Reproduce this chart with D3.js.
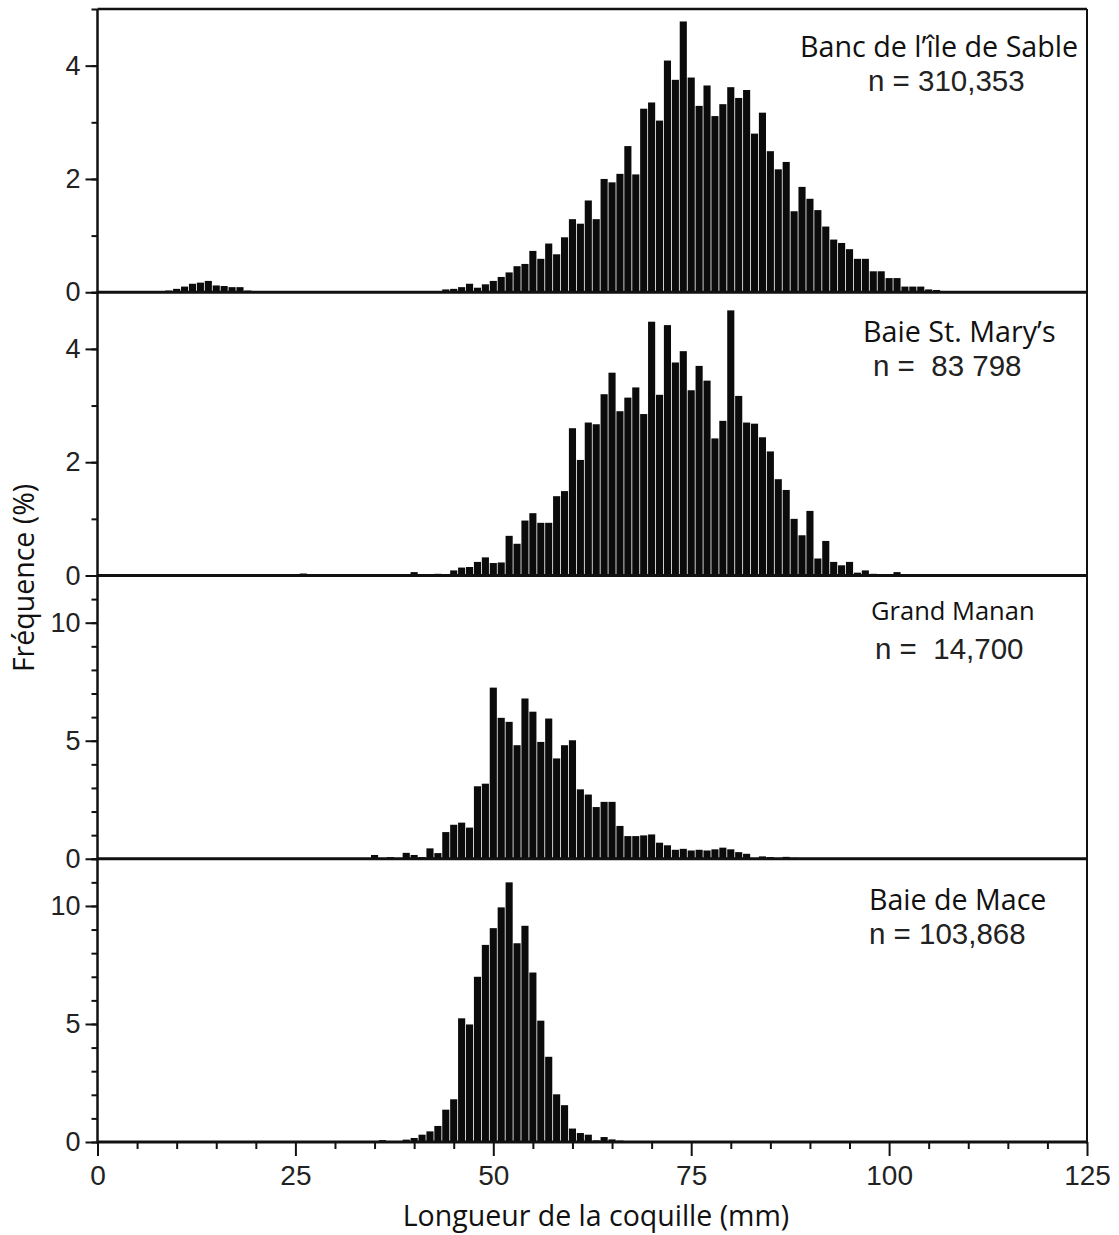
<!DOCTYPE html>
<html>
<head>
<meta charset="utf-8">
<script src="https://cdn.jsdelivr.net/npm/d3@7"></script>
<style>
  body { margin: 0; background: #fff; }
  .tick text { font-family: "Liberation Sans", Arial, sans-serif; font-size: 27px; fill: #222; }
  .xaxis .tick text { font-size: 28px; }
  .tick line { stroke: #111; stroke-width: 2px; }
  .title { font-family: "Open Sans", sans-serif; fill: #111; white-space: pre; }
  .nlab { font-family: "Liberation Sans", Arial, sans-serif; font-size: 29.5px; fill: #222; white-space: pre; }
  .axtitle { font-family: "Open Sans", sans-serif; font-size: 28.5px; fill: #111; }
</style>
</head>
<body>
<div id="chart"></div>
<script>
// ---- data (percent per 1 mm length class) ----
var sites = ["Banc de l\u2019île de Sable", "Baie St. Mary\u2019s", "Grand Manan", "Baie de Mace"];
var nLabels = ["n = 310,353", "n =  83 798", "n =  14,700", "n = 103,868"];
var yMax = [5, 5, 12, 12];
var xTickLabels = [0, 25, 50, 75, 100, 125];

// first length class (mm) of each series
var sableStart = 9;
var sableFreq = [0.03, 0.06, 0.1, 0.15, 0.17, 0.2, 0.12, 0.11, 0.09, 0.09, 0.03, 0.02,
  0, 0, 0, 0, 0, 0, 0, 0, 0, 0, 0, 0, 0, 0, 0, 0, 0, 0, 0,
  0.01, 0.01, 0.01, 0.02, 0.05, 0.06, 0.09, 0.15, 0.08, 0.14,
  0.2, 0.27, 0.35, 0.46, 0.5, 0.73, 0.59, 0.86, 0.67, 0.97,
  1.29, 1.21, 1.62, 1.29, 2.0, 1.94, 2.09, 2.58, 2.08, 3.24,
  3.35, 3.03, 4.09, 3.75, 4.78, 3.79, 3.29, 3.65, 3.11, 3.32,
  3.62, 3.43, 3.57, 2.8, 3.17, 2.49, 2.17, 2.3, 1.43, 1.86,
  1.65, 1.45, 1.16, 0.93, 0.87, 0.76, 0.59, 0.59, 0.37, 0.37,
  0.25, 0.25, 0.1, 0.1, 0.1, 0.05, 0.04, 0.02];

var maryStart = 26;
var maryFreq = [0.035, 0, 0, 0, 0, 0, 0, 0, 0.01, 0, 0, 0, 0,
  0.01, 0.06, 0.02, 0.02, 0.03, 0.01, 0.09, 0.14, 0.15, 0.24, 0.32,
  0.22, 0.23, 0.7, 0.56, 0.97, 1.1, 0.93, 0.93, 1.4, 1.49,
  2.6, 2.04, 2.7, 2.67, 3.2, 3.58, 2.9, 3.14, 3.32, 2.85,
  4.48, 3.19, 4.42, 3.76, 3.96, 3.27, 3.7, 3.44, 2.42, 2.73,
  4.68, 3.17, 2.7, 2.68, 2.44, 2.19, 1.7, 1.51, 1.0, 0.71,
  1.14, 0.3, 0.61, 0.24, 0.18, 0.24, 0.05, 0.09, 0.03, 0.02,
  0.02, 0.06];

var mananStart = 35;
var mananFreq = [0.16, 0.03, 0.07, 0.03, 0.25, 0.16, 0.07, 0.44, 0.24, 1.13,
  1.44, 1.53, 1.32, 3.07, 3.18, 7.25, 5.97, 5.8, 4.81, 6.79,
  6.23, 4.95, 5.94, 4.25, 4.81, 5.02, 2.94, 2.72, 2.19, 2.41,
  2.41, 1.39, 0.96, 0.96, 0.99, 1.03, 0.68, 0.57, 0.38, 0.42,
  0.35, 0.38, 0.35, 0.4, 0.47, 0.4, 0.28, 0.21, 0.03, 0.1,
  0.07, 0.03, 0.08, 0.04];

var maceStart = 36;
var maceFreq = [0.08, 0.01, 0.01, 0.1, 0.17, 0.31, 0.45, 0.68, 1.37, 1.81,
  5.24, 4.98, 7.0, 8.35, 9.06, 9.94, 11.0, 8.42, 9.16, 7.18,
  5.14, 3.61, 2.02, 1.56, 0.57, 0.38, 0.31, 0.07, 0.21, 0.11,
  0.06, 0.03];

var starts = [sableStart, maryStart, mananStart, maceStart];
var freqs = [sableFreq, maryFreq, mananFreq, maceFreq];

// ---- layout ----
var W = 1119, H = 1235;
var plotLeft = 97.5, plotRight = 1087, plotTop = 9, panelH = 283.25;
// label positions per panel: [titleX, titleDy, titleFontSize, nX, nDy]
var labelPos = [[800, 48, 28.7, 868, 82], [863, 50, 28.7, 873, 84],
                [871, 44, 25.5, 875, 83], [869, 51, 28.6, 869, 85]];

var svg = d3.select("#chart").append("svg")
  .attr("width", W).attr("height", H);

var x = d3.scaleLinear().domain([0, 125]).range([plotLeft, plotRight]);
var binW = x(1) - x(0);

sites.forEach(function(name, i) {
  var top = plotTop + i * panelH;
  var bottom = top + panelH;
  var y = d3.scaleLinear().domain([0, yMax[i]]).range([bottom, top]);
  var g = svg.append("g").attr("class", "panel");

  var data = freqs[i].map(function(v, j) { return {mm: starts[i] + j, v: v}; })
    .filter(function(d) { return d.v > 0; });

  g.selectAll("rect").data(data).enter().append("rect")
    .attr("x", function(d) { return x(d.mm - 0.5) + 0.4; })
    .attr("width", binW - 0.8)
    .attr("y", function(d) { return y(d.v); })
    .attr("height", function(d) { return bottom - y(d.v); })
    .attr("fill", "#0b0b0b");

  // minor ticks every unit, labelled major ticks
  var minor = d3.range(0, yMax[i] + 1);
  var major = i < 2 ? [0, 2, 4] : [0, 5, 10];
  g.append("g").attr("transform", "translate(" + plotLeft + ",0)")
    .call(d3.axisLeft(y).tickValues(minor).tickSize(6).tickFormat(""))
    .call(function(a) { a.select(".domain").remove(); });
  g.append("g").attr("transform", "translate(" + plotLeft + ",0)")
    .call(d3.axisLeft(y).tickValues(major).tickSize(12).tickPadding(5).tickFormat(d3.format("d")))
    .call(function(a) { a.select(".domain").remove(); });

  // panel baseline
  g.append("line")
    .attr("x1", plotLeft).attr("x2", plotRight)
    .attr("y1", bottom).attr("y2", bottom)
    .attr("stroke", "#111").attr("stroke-width", 3);

  var lp = labelPos[i];
  g.append("text").attr("class", "title")
    .attr("x", lp[0]).attr("y", top + lp[1])
    .style("font-size", lp[2] + "px")
    .text(name);
  g.append("text").attr("class", "nlab")
    .attr("x", lp[3]).attr("y", top + lp[4]).text(nLabels[i]);
});

var plotBottom = plotTop + 4 * panelH;

// frame
svg.append("line").attr("x1", plotLeft).attr("x2", plotRight)
  .attr("y1", plotTop).attr("y2", plotTop)
  .attr("stroke", "#111").attr("stroke-width", 2.5);
svg.append("line").attr("x1", plotLeft).attr("x2", plotLeft)
  .attr("y1", plotTop).attr("y2", plotBottom + 1.5)
  .attr("stroke", "#111").attr("stroke-width", 2.5);
svg.append("line").attr("x1", plotRight).attr("x2", plotRight)
  .attr("y1", plotTop).attr("y2", plotBottom + 1.5)
  .attr("stroke", "#111").attr("stroke-width", 2);

// bottom x axis
var minorX = d3.range(0, 126, 5).filter(function(v) { return v % 25 !== 0; });
svg.append("g").attr("transform", "translate(0," + plotBottom + ")")
  .call(d3.axisBottom(x).tickValues(minorX).tickSize(7).tickFormat(""))
  .call(function(a) { a.select(".domain").remove(); });
svg.append("g").attr("class", "xaxis").attr("transform", "translate(0," + plotBottom + ")")
  .call(d3.axisBottom(x).tickValues(xTickLabels).tickSize(14).tickPadding(9))
  .call(function(a) { a.select(".domain").remove(); });

// axis titles
svg.append("text").attr("class", "axtitle")
  .attr("text-anchor", "middle")
  .attr("transform", "translate(34," + 578 + ") rotate(-90)")
  .text("Fréquence (%)");
svg.append("text").attr("class", "axtitle")
  .attr("text-anchor", "middle")
  .attr("x", 596).attr("y", 1226)
  .text("Longueur de la coquille (mm)");
</script>
</body>
</html>
